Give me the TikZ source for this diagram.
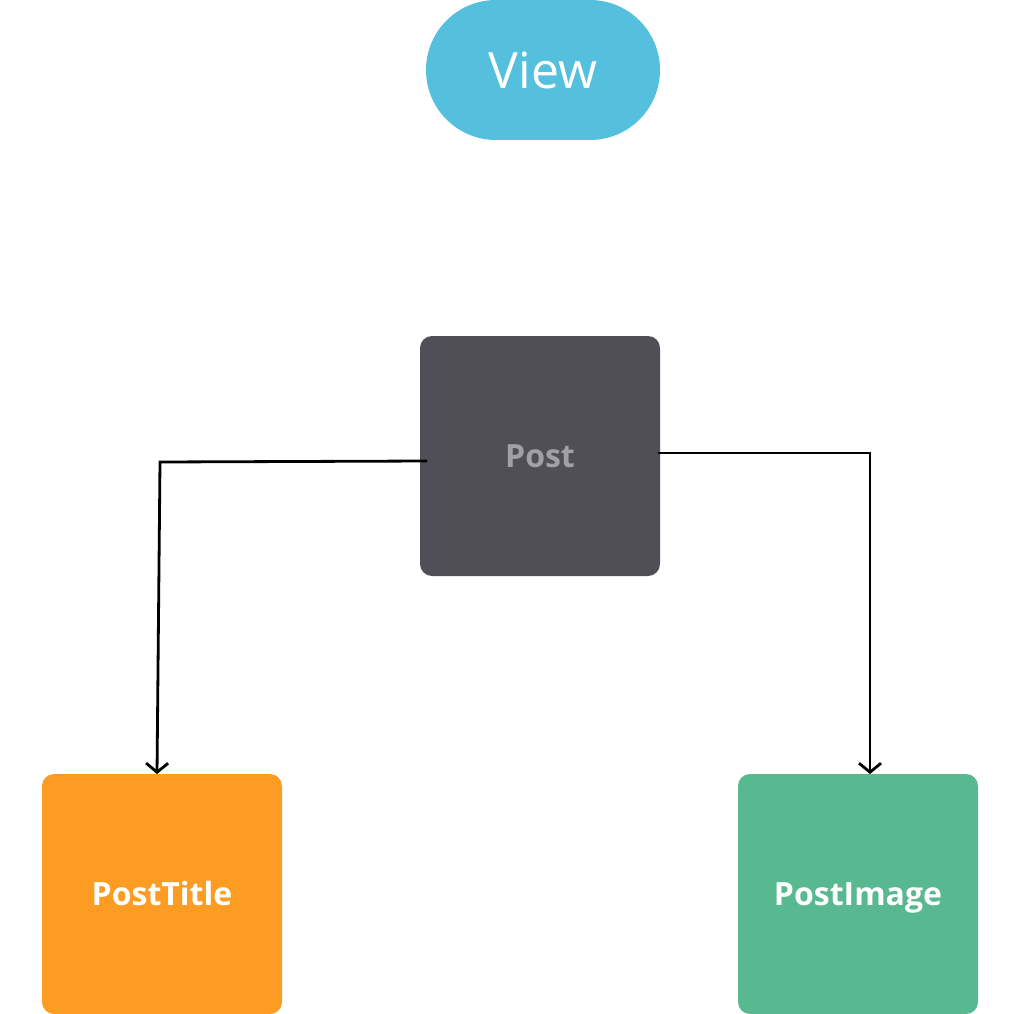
\documentclass[tikz,border=0pt]{standalone}
\usepackage{fontspec}
\setmainfont{Open Sans}
\usetikzlibrary{arrows.meta}
\definecolor{viewc}{HTML}{55C0DE}
\definecolor{postc}{HTML}{504F57}
\definecolor{posttxt}{HTML}{A0A0A5}
\definecolor{orangec}{HTML}{FD9C22}
\definecolor{greenc}{HTML}{58B990}
\tikzset{
  box/.style={rectangle, rounded corners=12pt, minimum width=240pt, minimum height=240pt, inner sep=0pt, text height=23pt, text depth=0pt, font=\fontsize{32}{36}\selectfont\bfseries, text=white},
  conn/.style={line width=2.8pt, -{Straight Barb[length=9pt,width=22pt,line width=2.8pt]}}
}
\begin{document}
\begin{tikzpicture}[x=1pt,y=-1pt]
\useasboundingbox (0,0) rectangle (1020,1014);
\node[fill=viewc, rounded corners=70pt, minimum width=234pt, minimum height=140pt, inner sep=0pt, text=white, font=\fontsize{50}{56}\selectfont] (view) at (543,70) {View};
\node[box, fill=postc, text=posttxt] (post) at (540,456) {Post};
\node[box, fill=orangec] (title) at (162,894) {PostTitle};
\node[box, fill=greenc] (image) at (858,894) {PostImage};
\coordinate (pl) at (427,461);
\coordinate (pr) at (658,453);
\draw[conn] (pl) -- (160,462) -- (157,774) coordinate (tl);
\draw[conn] (pr) -- (870,453) -- (870,774) coordinate (tr);
\end{tikzpicture}
\end{document}
